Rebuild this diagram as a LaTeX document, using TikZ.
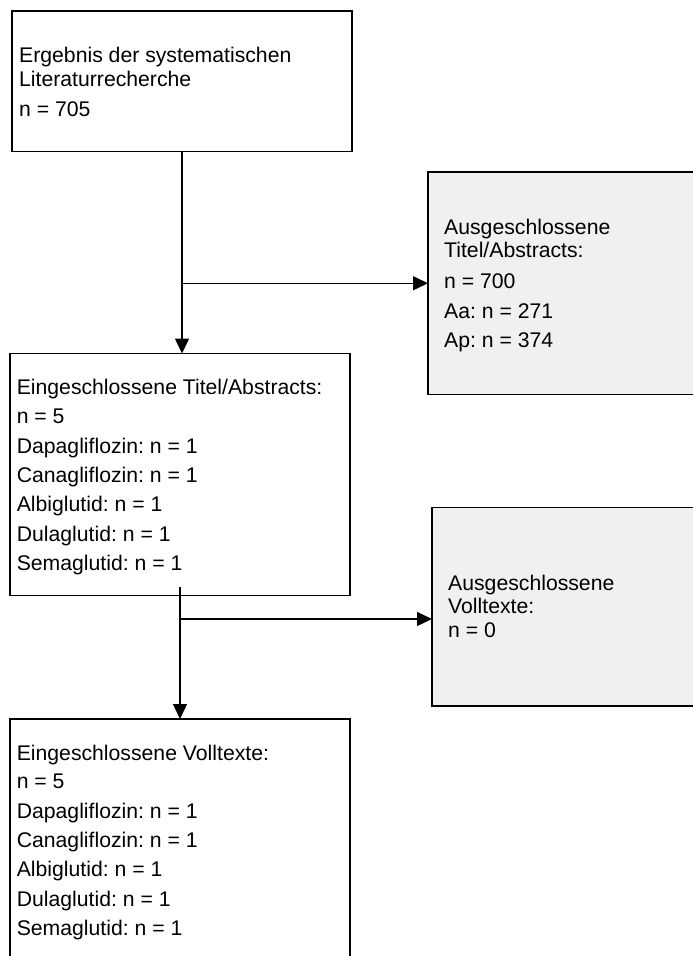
\documentclass[tikz,border=0pt]{standalone}
\usepackage{fontspec}
\setmainfont{Liberation Sans}
\usetikzlibrary{arrows.meta}
\definecolor{boxgray}{HTML}{F0F0F0}
\frenchspacing
\begin{document}
\begin{tikzpicture}[x=1pt,y=-1pt,
  box/.style={draw=black, line width=1.1pt, anchor=north west, inner sep=0pt, outer sep=0pt},
  greybox/.style={box, fill=boxgray},
  txt/.style={anchor=base west, inner sep=0pt, font=\fontsize{21.2}{24}\selectfont},
  arr/.style={line width=1.4pt, -{Triangle[length=15pt,width=14pt]}}]
\useasboundingbox (0,0) rectangle (693,956);
\fill[white] (0,0) rectangle (693,956);

% boxes
\node[box, minimum width=340pt, minimum height=140.5pt] (b1) at (12,11) {};
\node[greybox, minimum width=300pt, minimum height=222.5pt] (b2) at (428,172) {};
\node[box, minimum width=340pt, minimum height=242pt] (b3) at (10,353.5) {};
\node[greybox, minimum width=300pt, minimum height=198.5pt] (b4) at (432,507.5) {};
\node[box, minimum width=340pt, minimum height=300pt] (b5) at (10,719) {};

% texts box 1
\node[txt] (t1a) at (19,62.3) {Ergebnis der systematischen};
\node[txt] (t1b) at (19,86) {Literaturrecherche};
\node[txt] (t1c) at (19,116) {n = 705};

% texts box 2
\node[txt] (t2a) at (444,234) {Ausgeschlossene};
\node[txt] (t2b) at (444,257.7) {Titel/Abstracts:};
\node[txt] (t2c) at (444,288.3) {n = 700};
\node[txt] (t2d) at (444,318.7) {Aa: n = 271};
\node[txt] (t2e) at (444,347.3) {Ap: n = 374};

% texts box 3
\node[txt] (t3a) at (16.6,394) {Eingeschlossene Titel/Abstracts:};
\node[txt] (t3b) at (16.6,423.3) {n = 5};
\node[txt] (t3c) at (16.6,453.3) {Dapagliflozin: n = 1};
\node[txt] (t3d) at (16.6,482.3) {Canagliflozin: n = 1};
\node[txt] (t3e) at (16.6,511.7) {Albiglutid: n = 1};
\node[txt] (t3f) at (16.6,541) {Dulaglutid: n = 1};
\node[txt] (t3g) at (16.6,570) {Semaglutid: n = 1};

% texts box 4
\node[txt] (t4a) at (448,590) {Ausgeschlossene};
\node[txt] (t4b) at (448,613.3) {Volltexte:};
\node[txt] (t4c) at (448,637.3) {n = 0};

% texts box 5
\node[txt] (t5a) at (16.6,760) {Eingeschlossene Volltexte:};
\node[txt] (t5b) at (16.6,788.3) {n = 5};
\node[txt] (t5c) at (16.6,818.3) {Dapagliflozin: n = 1};
\node[txt] (t5d) at (16.6,847.7) {Canagliflozin: n = 1};
\node[txt] (t5e) at (16.6,876.7) {Albiglutid: n = 1};
\node[txt] (t5f) at (16.6,906.7) {Dulaglutid: n = 1};
\node[txt] (t5g) at (16.6,935.7) {Semaglutid: n = 1};

% connectors
\draw[arr] (b1.south) -- (b1.south |- b3.north);
\coordinate (j1) at (b1.south |- b2.west);
\draw[arr] (j1) -- (b2.west);
\coordinate (s2) at (180,587);
\draw[arr] (s2) -- (s2 |- b5.north);
\coordinate (j2) at (180,619);
\draw[arr] (j2) -- (j2 -| b4.west);
\end{tikzpicture}
\end{document}
